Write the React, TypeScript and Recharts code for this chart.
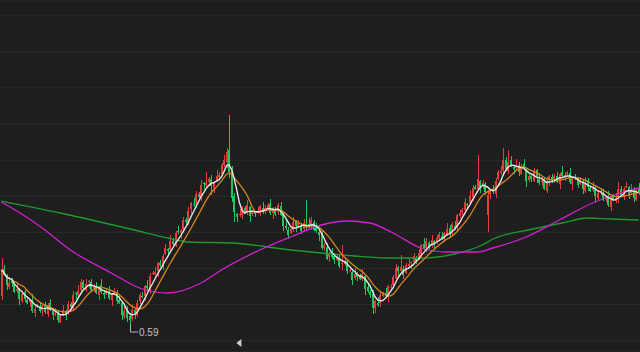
import React from 'react';
import { ComposedChart, Bar, Line, XAxis, YAxis, CartesianGrid, ReferenceDot } from 'recharts';

// daily candles, left to right
const openPrices = [
  0.648, 0.702, 0.690, 0.666, 0.678, 0.672, 0.658, 0.662, 0.638, 0.656,
  0.640, 0.636, 0.640, 0.614, 0.626, 0.626, 0.620, 0.630, 0.612, 0.634,
  0.618, 0.612, 0.614, 0.596, 0.612, 0.618, 0.614, 0.632, 0.622, 0.654,
  0.650, 0.660, 0.676, 0.660, 0.676, 0.676, 0.662, 0.668, 0.650, 0.670,
  0.654, 0.652, 0.658, 0.640, 0.656, 0.656, 0.640, 0.634, 0.606, 0.622,
  0.608, 0.602, 0.620, 0.610, 0.638, 0.648, 0.648, 0.668, 0.660, 0.692,
  0.692, 0.698, 0.714, 0.706, 0.732, 0.742, 0.740, 0.758, 0.748, 0.778,
  0.774, 0.782, 0.800, 0.792, 0.822, 0.832, 0.832, 0.852, 0.842, 0.874,
  0.870, 0.876, 0.882, 0.864, 0.880, 0.886, 0.892, 0.910, 0.916, 0.940,
  0.900, 0.848, 0.812, 0.810, 0.810, 0.824, 0.814, 0.826, 0.812, 0.814,
  0.814, 0.818, 0.824, 0.820, 0.822, 0.832, 0.814, 0.820, 0.816, 0.828,
  0.812, 0.788, 0.780, 0.774, 0.780, 0.798, 0.788, 0.790, 0.782, 0.792,
  0.792, 0.788, 0.796, 0.784, 0.776, 0.772, 0.744, 0.746, 0.726, 0.732,
  0.728, 0.720, 0.722, 0.712, 0.712, 0.718, 0.698, 0.696, 0.684, 0.690,
  0.688, 0.682, 0.688, 0.666, 0.656, 0.652, 0.624, 0.634, 0.634, 0.648,
  0.654, 0.648, 0.664, 0.670, 0.684, 0.706, 0.698, 0.702, 0.694, 0.708,
  0.714, 0.716, 0.724, 0.722, 0.732, 0.752, 0.744, 0.754, 0.748, 0.758,
  0.756, 0.764, 0.768, 0.766, 0.772, 0.784, 0.772, 0.788, 0.788, 0.808,
  0.816, 0.820, 0.832, 0.834, 0.846, 0.866, 0.862, 0.878, 0.870, 0.872,
  0.810, 0.852, 0.858, 0.852, 0.882, 0.894, 0.900, 0.920, 0.898, 0.920,
  0.906, 0.904, 0.910, 0.892, 0.912, 0.902, 0.880, 0.888, 0.878, 0.900,
  0.882, 0.876, 0.880, 0.858, 0.880, 0.886, 0.880, 0.888, 0.872, 0.896,
  0.886, 0.892, 0.894, 0.872, 0.886, 0.882, 0.872, 0.878, 0.858, 0.878,
  0.864, 0.860, 0.866, 0.844, 0.858, 0.854, 0.842, 0.846, 0.826, 0.848,
  0.838, 0.846, 0.862, 0.846, 0.866, 0.866, 0.854, 0.860, 0.840, 0.864,
];
const highPrices = [
  0.724, 0.710, 0.692, 0.686, 0.684, 0.676, 0.672, 0.664, 0.658, 0.660,
  0.648, 0.642, 0.652, 0.628, 0.632, 0.636, 0.632, 0.636, 0.634, 0.642,
  0.620, 0.624, 0.620, 0.612, 0.630, 0.620, 0.638, 0.636, 0.658, 0.656,
  0.670, 0.682, 0.680, 0.682, 0.680, 0.682, 0.672, 0.676, 0.668, 0.682,
  0.660, 0.662, 0.668, 0.654, 0.664, 0.660, 0.648, 0.636, 0.630, 0.628,
  0.614, 0.630, 0.622, 0.640, 0.654, 0.656, 0.670, 0.680, 0.694, 0.698,
  0.706, 0.716, 0.720, 0.732, 0.752, 0.744, 0.770, 0.764, 0.778, 0.788,
  0.782, 0.806, 0.804, 0.826, 0.836, 0.844, 0.858, 0.856, 0.880, 0.876,
  0.896, 0.886, 0.890, 0.878, 0.900, 0.896, 0.914, 0.930, 0.944, 1.010,
  0.908, 0.854, 0.814, 0.822, 0.828, 0.828, 0.840, 0.828, 0.818, 0.818,
  0.826, 0.830, 0.836, 0.830, 0.834, 0.842, 0.826, 0.826, 0.834, 0.836,
  0.814, 0.800, 0.786, 0.786, 0.806, 0.800, 0.800, 0.794, 0.802, 0.840,
  0.804, 0.806, 0.800, 0.794, 0.778, 0.778, 0.754, 0.754, 0.736, 0.744,
  0.734, 0.730, 0.732, 0.750, 0.722, 0.722, 0.708, 0.698, 0.704, 0.696,
  0.692, 0.702, 0.690, 0.672, 0.660, 0.660, 0.640, 0.646, 0.656, 0.656,
  0.664, 0.670, 0.672, 0.690, 0.712, 0.708, 0.730, 0.708, 0.714, 0.722,
  0.718, 0.734, 0.728, 0.742, 0.752, 0.764, 0.764, 0.758, 0.770, 0.760,
  0.770, 0.776, 0.776, 0.776, 0.794, 0.790, 0.796, 0.798, 0.812, 0.820,
  0.824, 0.844, 0.834, 0.860, 0.870, 0.870, 0.930, 0.880, 0.880, 0.876,
  0.860, 0.860, 0.870, 0.884, 0.900, 0.908, 0.944, 0.926, 0.940, 0.928,
  0.908, 0.922, 0.916, 0.912, 0.922, 0.904, 0.894, 0.892, 0.904, 0.902,
  0.894, 0.886, 0.884, 0.886, 0.890, 0.892, 0.892, 0.896, 0.894, 0.908,
  0.896, 0.898, 0.904, 0.884, 0.892, 0.886, 0.886, 0.880, 0.886, 0.884,
  0.868, 0.876, 0.868, 0.860, 0.862, 0.862, 0.848, 0.858, 0.850, 0.852,
  0.854, 0.876, 0.868, 0.866, 0.876, 0.868, 0.872, 0.866, 0.864, 0.874,
];
const lowPrices = [
  0.640, 0.688, 0.660, 0.662, 0.666, 0.654, 0.654, 0.630, 0.634, 0.636,
  0.632, 0.626, 0.614, 0.606, 0.624, 0.614, 0.608, 0.612, 0.606, 0.618,
  0.600, 0.608, 0.594, 0.594, 0.608, 0.600, 0.610, 0.620, 0.620, 0.642,
  0.646, 0.652, 0.662, 0.656, 0.664, 0.656, 0.656, 0.652, 0.640, 0.652,
  0.642, 0.650, 0.640, 0.628, 0.652, 0.632, 0.632, 0.600, 0.602, 0.596,
  0.590, 0.598, 0.602, 0.606, 0.632, 0.644, 0.638, 0.660, 0.652, 0.690,
  0.688, 0.686, 0.706, 0.700, 0.730, 0.728, 0.736, 0.744, 0.746, 0.772,
  0.762, 0.778, 0.790, 0.790, 0.812, 0.826, 0.824, 0.844, 0.838, 0.860,
  0.866, 0.870, 0.850, 0.854, 0.876, 0.878, 0.890, 0.906, 0.904, 0.884,
  0.836, 0.796, 0.796, 0.806, 0.802, 0.812, 0.810, 0.796, 0.808, 0.806,
  0.812, 0.808, 0.812, 0.812, 0.820, 0.810, 0.802, 0.808, 0.810, 0.808,
  0.778, 0.780, 0.762, 0.772, 0.776, 0.776, 0.784, 0.772, 0.780, 0.780,
  0.784, 0.780, 0.778, 0.774, 0.758, 0.740, 0.738, 0.720, 0.716, 0.722,
  0.712, 0.718, 0.704, 0.700, 0.708, 0.692, 0.696, 0.670, 0.680, 0.678,
  0.680, 0.678, 0.650, 0.654, 0.644, 0.612, 0.614, 0.626, 0.626, 0.646,
  0.644, 0.636, 0.660, 0.664, 0.682, 0.688, 0.694, 0.682, 0.692, 0.704,
  0.702, 0.712, 0.712, 0.720, 0.722, 0.740, 0.736, 0.742, 0.744, 0.742,
  0.752, 0.758, 0.760, 0.756, 0.768, 0.764, 0.770, 0.780, 0.776, 0.804,
  0.810, 0.818, 0.820, 0.830, 0.838, 0.860, 0.858, 0.854, 0.862, 0.850,
  0.776, 0.842, 0.852, 0.844, 0.880, 0.890, 0.888, 0.898, 0.892, 0.906,
  0.892, 0.900, 0.888, 0.890, 0.900, 0.866, 0.876, 0.876, 0.876, 0.874,
  0.870, 0.868, 0.860, 0.854, 0.868, 0.874, 0.874, 0.874, 0.862, 0.884,
  0.878, 0.890, 0.872, 0.860, 0.880, 0.864, 0.870, 0.852, 0.854, 0.858,
  0.856, 0.856, 0.836, 0.840, 0.850, 0.838, 0.836, 0.826, 0.818, 0.838,
  0.834, 0.834, 0.846, 0.840, 0.864, 0.842, 0.850, 0.836, 0.838, 0.850,
];
const closePrices = [
  0.700, 0.690, 0.670, 0.674, 0.674, 0.656, 0.662, 0.642, 0.652, 0.642,
  0.634, 0.640, 0.618, 0.622, 0.628, 0.618, 0.630, 0.616, 0.630, 0.620,
  0.610, 0.614, 0.600, 0.608, 0.620, 0.612, 0.632, 0.626, 0.650, 0.652,
  0.658, 0.676, 0.664, 0.672, 0.678, 0.660, 0.668, 0.654, 0.666, 0.656,
  0.650, 0.658, 0.644, 0.652, 0.658, 0.638, 0.634, 0.610, 0.618, 0.604,
  0.600, 0.620, 0.614, 0.634, 0.650, 0.646, 0.668, 0.664, 0.688, 0.694,
  0.696, 0.714, 0.710, 0.728, 0.744, 0.738, 0.758, 0.752, 0.774, 0.776,
  0.780, 0.800, 0.796, 0.818, 0.834, 0.830, 0.852, 0.846, 0.870, 0.872,
  0.874, 0.882, 0.868, 0.876, 0.888, 0.890, 0.910, 0.920, 0.936, 0.896,
  0.844, 0.816, 0.806, 0.812, 0.822, 0.814, 0.830, 0.808, 0.816, 0.812,
  0.818, 0.828, 0.816, 0.824, 0.830, 0.814, 0.824, 0.812, 0.830, 0.810,
  0.788, 0.784, 0.770, 0.782, 0.796, 0.788, 0.794, 0.778, 0.794, 0.790,
  0.788, 0.800, 0.780, 0.778, 0.770, 0.744, 0.750, 0.722, 0.734, 0.726,
  0.720, 0.726, 0.708, 0.714, 0.716, 0.698, 0.700, 0.680, 0.692, 0.686,
  0.682, 0.692, 0.662, 0.658, 0.650, 0.624, 0.638, 0.630, 0.650, 0.652,
  0.648, 0.668, 0.666, 0.686, 0.704, 0.698, 0.706, 0.690, 0.710, 0.712,
  0.716, 0.728, 0.718, 0.734, 0.750, 0.744, 0.758, 0.744, 0.760, 0.754,
  0.764, 0.772, 0.762, 0.774, 0.782, 0.772, 0.792, 0.784, 0.810, 0.814,
  0.820, 0.836, 0.830, 0.848, 0.864, 0.862, 0.882, 0.866, 0.874, 0.856,
  0.850, 0.858, 0.856, 0.878, 0.896, 0.898, 0.920, 0.902, 0.916, 0.908,
  0.902, 0.910, 0.896, 0.908, 0.904, 0.878, 0.888, 0.882, 0.896, 0.884,
  0.874, 0.880, 0.862, 0.876, 0.888, 0.878, 0.888, 0.876, 0.892, 0.888,
  0.890, 0.894, 0.876, 0.882, 0.884, 0.870, 0.878, 0.862, 0.874, 0.866,
  0.858, 0.866, 0.848, 0.854, 0.856, 0.840, 0.846, 0.830, 0.844, 0.840,
  0.844, 0.862, 0.850, 0.862, 0.868, 0.852, 0.860, 0.844, 0.860, 0.854,
];

// long averages at a few candles: [candle index, value]
const ma60Points: [number, number][] = [
  [0, 0.836], [8, 0.812], [16, 0.784], [27, 0.740], [43, 0.694], [54, 0.664],
  [65, 0.654], [78, 0.674], [86, 0.700], [101, 0.740], [113, 0.766], [125, 0.790],
  [135, 0.798], [144, 0.794], [153, 0.774], [164, 0.744], [174, 0.736], [186, 0.736],
  [192, 0.744], [205, 0.766], [218, 0.800], [231, 0.834], [242, 0.854], [249, 0.864],
];
const ma120Points: [number, number][] = [
  [0, 0.838], [23, 0.814], [52, 0.780], [65, 0.764], [73, 0.756], [90, 0.754],
  [113, 0.740], [125, 0.734], [138, 0.728], [151, 0.724], [164, 0.724], [177, 0.732],
  [187, 0.748], [193, 0.764], [206, 0.780], [219, 0.794], [229, 0.804], [238, 0.802],
  [249, 0.800],
];

const gridTicks = [1.2086, 1.1364, 1.0642, 0.992, 0.9198, 0.8476, 0.7754, 0.7032, 0.631, 0.5588];

const UP = '#e63d3a';
const DOWN = '#1ec85a';

const movingAvg = (vals: number[], n: number) =>
  vals.map((_, i) => {
    const win = vals.slice(Math.max(0, i - n + 1), i + 1);
    return win.reduce((a, b) => a + b, 0) / win.length;
  });

const ma5 = movingAvg(closePrices, 5);
const ma10 = movingAvg(closePrices, 10);
const ma60Map = new Map(ma60Points);
const ma120Map = new Map(ma120Points);

const data = closePrices.map((close, i) => ({
  i,
  open: openPrices[i],
  high: highPrices[i],
  low: lowPrices[i],
  close,
  range: [lowPrices[i], highPrices[i]],
  ma5: ma5[i],
  ma10: ma10[i],
  ma60: ma60Map.get(i) ?? null,
  ma120: ma120Map.get(i) ?? null,
}));

const minIdx = lowPrices.indexOf(Math.min(...lowPrices));

const Candle = (props: any) => {
  const { x, y, width, height, payload, index } = props;
  if (!payload) return null;
  const { open, close, high, low } = payload;
  const per = high - low > 0 ? height / (high - low) : 0;
  const yOpen = y + (high - open) * per;
  const yClose = y + (high - close) * per;
  const color = close >= open ? UP : DOWN;
  const cx = Math.round(x + width / 2);
  const top = Math.min(yOpen, yClose);
  const bodyH = Math.max(1, Math.abs(yOpen - yClose));
  const yLow = y + height;
  return (
    <g>
      <rect x={cx} y={y} width={1} height={Math.max(1, height)} fill={color} />
      <rect x={cx - 1} y={top} width={2} height={bodyH} fill={color} />
      {index === minIdx && (
        <g>
          <path d={`M${cx + 0.5},${yLow} V${yLow + 7} H${cx + 8}`} stroke="#b8b8b8" fill="none" strokeWidth={1} />
          <text x={cx + 9} y={yLow + 11} fill="#c4c4c4" fontSize={10} fontFamily="Liberation Sans, Arial, sans-serif">
            {low.toFixed(2)}
          </text>
        </g>
      )}
    </g>
  );
};

const Marker = (props: any) => {
  const { cx, cy } = props;
  return (
    <path
      d={`M${cx - 3},${cy} L${cx + 2},${cy - 4} L${cx + 2},${cy + 4} Z`}
      fill="#cfcfcf"
    />
  );
};

export default function App() {
  return (
    <div style={{ position: 'fixed', left: 0, top: 0, width: 640, height: 352, background: '#1e1e1e' }}>
      <ComposedChart width={640} height={352} data={data} margin={{ top: 0, right: 0, bottom: 0, left: 0 }} barCategoryGap={0}>
        <CartesianGrid vertical={false} stroke="#363636" strokeDasharray="1 1" />
        <XAxis dataKey="i" hide />
        <YAxis hide domain={[0.536, 1.24]} ticks={gridTicks} type="number" allowDataOverflow />
        <Bar dataKey="range" shape={<Candle />} isAnimationActive={false} />
        <Line dataKey="ma120" stroke="#1f9a30" strokeWidth={1.3} dot={false} activeDot={false} type="monotone" connectNulls isAnimationActive={false} />
        <Line dataKey="ma60" stroke="#d41fd4" strokeWidth={1.3} dot={false} activeDot={false} type="monotone" connectNulls isAnimationActive={false} />
        <Line dataKey="ma10" stroke="#d9861c" strokeWidth={1.3} dot={false} activeDot={false} type="linear" isAnimationActive={false} />
        <Line dataKey="ma5" stroke="#e6e6e6" strokeWidth={1.4} dot={false} activeDot={false} type="linear" isAnimationActive={false} />
        <ReferenceDot x={93} y={0.554} r={0} shape={<Marker />} />
      </ComposedChart>
    </div>
  );
}
